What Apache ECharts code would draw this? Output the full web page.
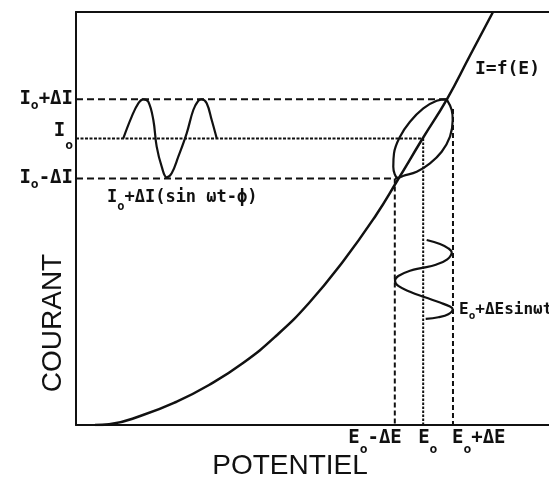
<!DOCTYPE html>
<html><head><meta charset="utf-8">
<script src="https://cdn.jsdelivr.net/npm/echarts@6/dist/echarts.min.js"></script>
<style>html,body{margin:0;padding:0;background:#fff}#c{width:549px;height:482px}</style>
</head><body><div id="c"></div>
<script>
// Characteristic curve I = f(E) (arbitrary units 0..100)
const curveE = [4.0, 7.0, 14.16, 21.14, 28.12, 35.31, 42.28, 49.26, 56.45, 63.42, 68.01, 73.15, 78.44, 83.30, 88.16];
const curveI = [0, 0.2, 2.42, 5.57, 9.69, 15.01, 21.55, 29.54, 39.6, 50.8, 59.32, 69.13, 78.93, 89.47, 100];
// Lissajous ellipse around the operating point
const ellE = [78.37, 79.43, 79.64, 79.07, 77.31, 74.84, 72.03, 69.13, 68.1, 67.08, 67.23, 68.50, 70.61, 73.43, 76.26, 78.37];
const ellI = [78.86, 76.27, 73.85, 69.81, 66.17, 63.37, 61.33, 60.29, 59.8, 62.54, 65.79, 69.81, 73.44, 76.68, 78.52, 78.86];
// Current response wave (top left)
const waveIE = [10.0, 11.78, 13.17, 14.23, 15.29, 16.35, 17.06, 18.12, 19.17, 20.23, 21.63, 23.40, 24.80, 25.86, 26.58, 27.63, 28.69, 29.75];
const waveII = [69.4, 74.66, 77.89, 78.86, 78.28, 73.85, 67.39, 62.54, 59.97, 60.94, 64.96, 70.62, 76.27, 78.52, 78.86, 77.89, 73.85, 69.41];
// Potential perturbation wave (vertical)
const waveEE = [74.14, 76.96, 78.71, 79.43, 78.50, 75.90, 73.43, 70.61, 68.14, 67.44, 68.14, 70.61, 73.78, 76.96, 79.07, 79.64, 78.71, 76.60, 73.93];
const waveEI = [44.79, 43.83, 42.79, 41.82, 40.12, 38.74, 38.09, 37.36, 36.08, 34.94, 33.66, 32.28, 30.92, 29.64, 28.67, 28.04, 26.83, 26.10, 25.69];
// Reference levels: [E0-ΔE, E0, E0+ΔE], [I0-ΔI, I0, I0+ΔI]
const E_REF = [67.4, 73.4, 79.7];
const I_REF = [59.7, 69.4, 78.9];
const hEnd = [68.1, 73.4, 78.4];   // where horizontal guides stop
const vTop = [59.7, 69.4, 76.5];   // where vertical guides start
const yTickLabels = ['I{s|o}-ΔI', '{m|I}{t|o}', 'I{s|o}+ΔI'];
const xTickLabels = ['E{s|o}-ΔE', 'E{s|o}', 'E{s|o}+ΔE'];
const curveLabel = 'I=f(E)';
const iWaveLabel = 'I{s|o}+ΔI(sin ωt-ϕ)';
const eWaveLabel = 'E{s|o}+ΔEsinωt';
const xName = 'POTENTIEL';
const yName = 'COURANT';

const INK = '#111';
const MONO = '"DejaVu Sans Mono"';
const zip = (a, b) => a.map((v, i) => [v, b[i]]);

const hStyles = [[7, 4], [3, 1.5], [7, 4]];
const vStyles = [[5, 3], [2.5, 1.5], [5, 3]];

const guideSeries = [];
I_REF.forEach((v, i) => guideSeries.push({
  type: 'line', data: [[0, v], [hEnd[i], v]], showSymbol: false, silent: true,
  lineStyle: { color: INK, width: 2, type: hStyles[i] }
}));
E_REF.forEach((v, i) => guideSeries.push({
  type: 'line', data: [[v, vTop[i]], [v, 0]], showSymbol: false, silent: true,
  lineStyle: { color: INK, width: 2, type: vStyles[i] }
}));

const mainTxt = { fontFamily: MONO, fontWeight: 'bold', fontSize: 19, color: INK };
const yRich = {
  m: Object.assign({}, mainTxt, { padding: [0, 0, 14, 0] }),
  s: { fontFamily: MONO, fontWeight: 'bold', fontSize: 13, color: INK, padding: [12, 0, 0, 0] },
  t: { fontFamily: MONO, fontWeight: 'bold', fontSize: 13, color: INK, padding: [15, 0, 0, 0] }
};
const xRich = {
  s: { fontFamily: MONO, fontWeight: 'bold', fontSize: 13, color: INK, padding: [24, 0, 0, 0] }
};
const xPos = [[7, 13], [-5, 13], [-1, 13]];
const xAlign = ['right', 'left', 'left'];

const axisCommon = {
  type: 'value', min: 0, max: 100,
  axisLine: { show: true, onZero: false, lineStyle: { color: INK, width: 2 } },
  axisTick: { show: false }, axisLabel: { show: false }, splitLine: { show: false }
};

const chart = echarts.init(document.getElementById('c'), null, { renderer: 'canvas' });
chart.setOption({
  animation: false,
  backgroundColor: '#fff',
  grid: { left: 76, right: 0, top: 12, bottom: 57 },
  xAxis: [Object.assign({ position: 'bottom' }, axisCommon), Object.assign({ position: 'top' }, axisCommon)],
  yAxis: Object.assign({ position: 'left' }, axisCommon),
  series: [
    { type: 'line', data: zip(curveE, curveI), smooth: 0.5, showSymbol: false, silent: true,
      lineStyle: { color: INK, width: 2.5 } },
    { type: 'line', data: zip(ellE, ellI), smooth: 0.4, showSymbol: false, silent: true,
      lineStyle: { color: INK, width: 2.2 } },
    { type: 'line', data: zip(waveIE, waveII), smooth: 0.4, showSymbol: false, silent: true,
      lineStyle: { color: INK, width: 2.2 } },
    { type: 'line', data: zip(waveEE, waveEI), smooth: 0.4, showSymbol: false, silent: true,
      lineStyle: { color: INK, width: 2.2 } },
    ...guideSeries,
    { type: 'scatter', symbolSize: 0, silent: true, itemStyle: { opacity: 1 },
      data: I_REF.map((v, i) => ({ value: [0, v], label: { formatter: yTickLabels[i] } })),
      label: { show: true, position: 'left', distance: 3, rich: yRich, opacity: 1,
        fontFamily: MONO, fontWeight: 'bold', fontSize: 19, color: INK } },
    { type: 'scatter', symbolSize: 0, silent: true, itemStyle: { opacity: 1 },
      data: E_REF.map((v, i) => ({ value: [v, 0],
        label: { formatter: xTickLabels[i], position: xPos[i], align: xAlign[i] } })),
      label: { show: true, verticalAlign: 'middle', rich: xRich, opacity: 1,
        fontFamily: MONO, fontWeight: 'bold', fontSize: 19, color: INK } }
  ],
  graphic: [
    { type: 'text', silent: true, style: { text: curveLabel, x: 475, y: 69, align: 'left', verticalAlign: 'middle',
      font: 'bold 18px ' + MONO, fill: INK } },
    { type: 'text', silent: true, style: { text: iWaveLabel, x: 107, y: 198, align: 'left', verticalAlign: 'middle',
      font: 'bold 17px ' + MONO, fill: INK,
      rich: { s: { fontFamily: MONO, fontWeight: 'bold', fontSize: 12, fill: INK, padding: [18, 0, 0, 0] } } } },
    { type: 'text', silent: true, style: { text: eWaveLabel, x: 459, y: 310, align: 'left', verticalAlign: 'middle',
      font: 'bold 16px ' + MONO, fill: INK,
      rich: { s: { fontFamily: MONO, fontWeight: 'bold', fontSize: 11, fill: INK, padding: [13, 0, 0, 0] } } } },
    { type: 'text', silent: true, style: { text: xName, x: 290, y: 466, align: 'center', verticalAlign: 'middle',
      font: '28px "Liberation Sans"', fill: INK } },
    { type: 'text', silent: true, x: 53, y: 323, rotation: Math.PI / 2,
      style: { text: yName, x: 0, y: 0, align: 'center', verticalAlign: 'middle',
      font: '28px "Liberation Sans"', fill: INK } }
  ]
});
</script></body></html>
